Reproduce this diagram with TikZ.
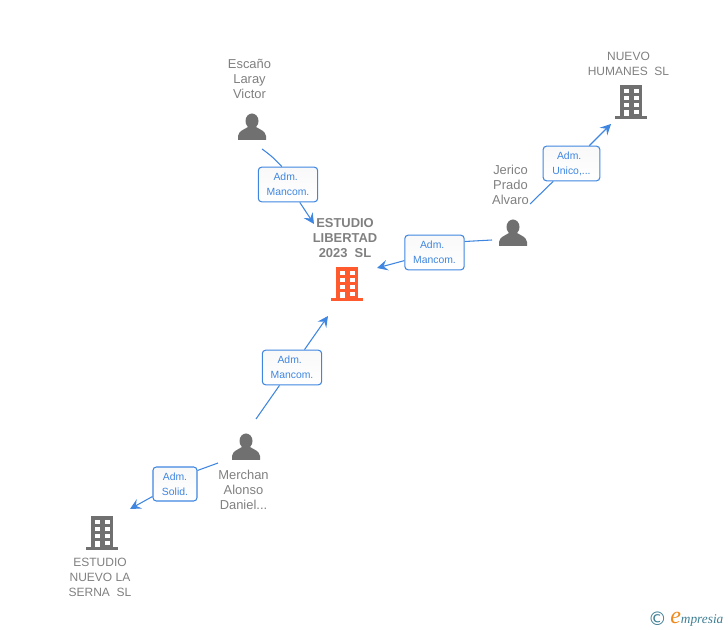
\documentclass[tikz,border=0pt]{standalone}
\usepackage{fontspec}
\setmainfont{Liberation Sans}
\newfontfamily\logofont{Liberation Serif}
\newfontfamily\symfont{DejaVu Sans}
\usepackage{xcolor}
\usetikzlibrary{arrows.meta}
\definecolor{linkblue}{HTML}{3F86E0}
\definecolor{icongray}{HTML}{707070}
\definecolor{namegray}{HTML}{808080}
\definecolor{mainorange}{HTML}{FF5A2D}
\definecolor{logoteal}{HTML}{3E7F93}
\definecolor{logoorange}{HTML}{F08A1D}
\tikzset{
	namelabel/.style={text=namegray, align=center, font=\fontsize{9.7}{11.25}\selectfont},
	firmlabel/.style={namelabel, font=\fontsize{9}{11.25}\selectfont},
	rolebox/.style={draw=linkblue, line width=0.8pt, rounded corners=2.5pt, top color=gray!5, bottom color=white, text=linkblue, align=center, inner sep=0pt, font=\fontsize{7.8}{11.25}\selectfont},
	link/.style={draw=linkblue, line width=0.8pt},
	linkarrow/.style={link, -{Stealth[length=8pt, width=8pt, inset=3pt]}},
	person/.pic={
		\fill[icongray] (0,0) ellipse[x radius=6.5, y radius=7.5];
		\fill[icongray] (-14,19) -- (-14,15) .. controls (-13,10) and (-9,9) .. (-4,6) -- (4,6) .. controls (9,9) and (13,10) .. (14,15) -- (14,19) -- cycle;
	},
	building/.pic={
		\fill[pic actions] (-11,0) rectangle (11,32);
		\fill[pic actions] (-16,31) rectangle (16,34);
		\foreach \row in {4,11,18}{
			\fill[white] (-7.5,\row) rectangle (-2.5,\row+4);
			\fill[white] (2.5,\row) rectangle (7.5,\row+4);
		}
		\fill[white] (2.5,25) rectangle (7.5,29);
		\fill[white] (-7.5,25) rectangle (-2.5,31);
	},
}
\newcommand{\admline}{Adm.\hspace*{3.5pt}}
\begin{document}
\begin{tikzpicture}[x=0.75pt, y=-0.75pt]
	\useasboundingbox (0,0) rectangle (728,630);
	% icons
	\pic at (252,121) {person};
	\pic at (513,227) {person};
	\pic at (246,441) {person};
	\pic[fill=icongray] at (631,85) {building};
	\pic[fill=mainorange] at (347,267) {building};
	\pic[fill=icongray] at (102,516) {building};
	% names
	\node[namelabel] (escano) at (249.5,79) {Escaño\\Laray\\Victor};
	\node[namelabel] (jerico) at (510.5,185) {Jerico\\Prado\\Alvaro};
	\node[namelabel] (merchan) at (243.5,490) {Merchan\\Alonso\\Daniel...};
	\node[firmlabel] (humanes) at (628.5,64) {NUEVO\\HUMANES\ \ SL};
	\node[namelabel, font=\fontsize{9.7}{11.25}\selectfont\bfseries] (libertad) at (345,238) {ESTUDIO\\LIBERTAD\\2023\ \ SL};
	\node[firmlabel] (serna) at (100,577) {ESTUDIO\\NUEVO LA\\SERNA\ \ SL};
	% role boxes
	\node[rolebox, minimum width=44.5pt, minimum height=26pt] (mancomA) at (288,184.5) {\admline\\Mancom.};
	\node[rolebox, minimum width=44.5pt, minimum height=26pt] (mancomB) at (434.5,252.5) {\admline\\Mancom.};
	\node[rolebox, minimum width=44.5pt, minimum height=26pt] (mancomC) at (292,367.5) {\admline\\Mancom.};
	\node[rolebox, minimum width=42.5pt, minimum height=26pt] (unico) at (571.5,163.5) {\admline\\Unico,...};
	\node[rolebox, minimum width=33pt, minimum height=25.5pt] (solid) at (175,484) {Adm.\\Solid.};
	% free ends
	\coordinate (escanoOut) at (262,149);
	\coordinate (libertadTop) at (314,224);
	\coordinate (jericoOutA) at (492,240);
	\coordinate (libertadRight) at (377,268);
	\coordinate (jericoOutB) at (530,204);
	\coordinate (humanesIn) at (611,124);
	\coordinate (merchanOutA) at (256,419);
	\coordinate (libertadBottom) at (328,316);
	\coordinate (merchanOutB) at (218,463);
	\coordinate (sernaIn) at (130,509);
	% connectors
	\draw[link] (escanoOut) to[bend left=6] (mancomA.109);
	\draw[linkarrow] (mancomA) -- (libertadTop);
	\draw[link] (jericoOutA) -- (mancomB.20);
	\draw[linkarrow] (mancomB) -- (libertadRight);
	\draw[link] (jericoOutB) -- (unico);
	\draw[linkarrow] (unico) -- (humanesIn);
	\draw[link] (merchanOutA) -- (mancomC);
	\draw[linkarrow] (mancomC) -- (libertadBottom);
	\draw[link] (merchanOutB) -- (solid.31);
	\draw[linkarrow] (solid) -- (sernaIn);
	% logo
	\node[text=logoteal, font=\symfont\fontsize{14}{14}\selectfont, inner sep=0pt] (logoc) at (657.5,619) {©};
	\node[anchor=base west, inner sep=0pt, font=\logofont\itshape\fontsize{10}{10}\selectfont, text=logoteal] (logo) at (670,623) {\textcolor{logoorange}{\fontsize{18}{18}\selectfont e}mpresia};
\end{tikzpicture}
\end{document}
